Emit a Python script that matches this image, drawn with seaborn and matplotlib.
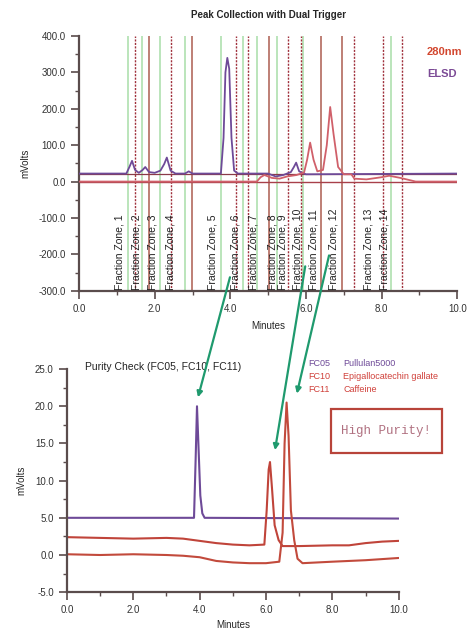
import matplotlib
matplotlib.use('Agg')
import matplotlib.pyplot as plt
import matplotlib.patches as mpatches
from matplotlib.patches import ConnectionPatch
from matplotlib.ticker import MultipleLocator, FormatStrFormatter
import pandas as pd
import seaborn as sns

# ---- top panel: dual trigger collection ----
elsd_time = [0.0, 1.25, 1.33, 1.40, 1.48, 1.58, 1.68, 1.75, 1.85, 2.00, 2.15, 2.25,
             2.32, 2.42, 2.55, 2.80, 2.90, 3.00, 3.20, 3.75, 3.82, 3.87, 3.92, 3.97,
             4.03, 4.10, 4.20, 5.00, 5.20, 5.40, 5.60, 5.68, 5.74, 5.82, 6.00, 10.0]
elsd_mv = [22, 22, 40, 57, 32, 24, 32, 40, 26, 24, 30, 48,
           66, 30, 22, 22, 28, 22, 22, 22, 120, 300, 340, 310,
           120, 30, 22, 22, 14, 18, 26, 40, 52, 28, 20, 22]

uv_time = [0.0, 4.70, 4.80, 4.90, 5.10, 5.30, 5.50, 5.75, 5.95, 6.03, 6.11, 6.20,
           6.30, 6.45, 6.55, 6.64, 6.73, 6.85, 7.00, 7.20, 7.28, 7.60, 8.00, 8.20,
           8.50, 8.90, 10.0]
uv_mv = [0, 0, 12, 18, 10, 8, 14, 18, 25, 60, 107, 60,
         28, 32, 100, 205, 130, 40, 20, 20, 8, 6, 12, 16,
         10, 0, 0]

green_lines = [1.30, 1.67, 2.14, 2.80, 3.76, 4.34, 4.71, 5.24, 5.93, 8.25]
dotted_lines = [1.48, 2.43, 4.15, 4.47, 5.53, 5.87, 7.28, 8.04, 8.54]
solid_lines = [1.85, 2.98, 5.03, 6.40, 6.96]

zone_names = ['Fraction Zone, %d' % i for i in range(1, 15)]
zone_pos = [1.08, 1.51, 1.93, 2.43, 3.54, 4.13, 4.60, 5.11, 5.37, 5.77, 6.19,
            6.72, 7.65, 8.07]

# ---- bottom panel: purity check ----
fc05_time = [0.0, 3.83, 3.88, 3.92, 3.97, 4.02, 4.08, 4.15, 10.0]
fc05_mv = [5.0, 5.0, 13.0, 20.0, 14.0, 8.0, 5.6, 5.0, 4.9]

fc10_time = [0.0, 1.0, 2.0, 3.0, 3.5, 4.0, 4.5, 5.0, 5.5, 5.95, 6.02, 6.08,
             6.12, 6.18, 6.26, 6.38, 6.50, 7.0, 8.0, 8.5, 9.0, 9.5, 10.0]
fc10_mv = [2.4, 2.3, 2.2, 2.3, 2.2, 1.9, 1.6, 1.4, 1.3, 1.4, 6.0, 11.5,
           12.5, 9.0, 4.0, 2.0, 1.2, 1.2, 1.3, 1.3, 1.6, 1.8, 1.9]

fc11_time = [0.0, 1.0, 2.0, 3.0, 3.5, 4.0, 4.5, 5.0, 5.5, 6.0, 6.40, 6.50,
             6.56, 6.62, 6.68, 6.75, 6.85, 6.95, 7.1, 8.0, 9.0, 10.0]
fc11_mv = [0.1, 0.0, 0.1, 0.0, -0.1, -0.3, -0.8, -1.0, -1.1, -1.1, -0.9, 3.0,
           15.0, 20.5, 16.0, 6.0, 2.0, -0.5, -1.1, -0.9, -0.7, -0.4]

legend_codes = ['FC05', 'FC10', 'FC11']
legend_names = ['Pullulan5000', 'Epigallocatechin gallate', 'Caffeine']

PURPLE = '#6e4a98'
RED = '#c8453a'
SPINE = '#5a4c4c'

sns.set_style('ticks')
plt.rcParams['font.family'] = ['Liberation Sans', 'DejaVu Sans']
plt.rcParams['font.size'] = 7

fig = plt.figure(figsize=(4.68, 6.32), dpi=100)
ax1 = fig.add_axes([0.169, 0.540, 0.808, 0.403])
ax2 = fig.add_axes([0.143, 0.063, 0.709, 0.353])


def style_axis(ax, xmaj, xmin, ymaj, ymin):
    for side in ['top', 'right']:
        ax.spines[side].set_visible(False)
    for side in ['left', 'bottom']:
        ax.spines[side].set_color(SPINE)
        ax.spines[side].set_linewidth(1.6)
    ax.xaxis.set_major_locator(MultipleLocator(xmaj))
    ax.xaxis.set_minor_locator(MultipleLocator(xmin))
    ax.yaxis.set_major_locator(MultipleLocator(ymaj))
    ax.yaxis.set_minor_locator(MultipleLocator(ymin))
    ax.xaxis.set_major_formatter(FormatStrFormatter('%.1f'))
    ax.yaxis.set_major_formatter(FormatStrFormatter('%.1f'))
    ax.tick_params(which='major', length=6, width=1.2, color=SPINE,
                   labelsize=7, labelcolor='#333333')
    ax.tick_params(which='minor', length=3, width=1.0, color=SPINE)


# top panel
for x in green_lines:
    ax1.axvline(x, color='#b5e3b5', lw=1.3, zorder=1)
for x in dotted_lines:
    ax1.axvline(x, color='#a0303c', lw=1.0, ls=(0, (1.5, 1)), zorder=1)
for x in solid_lines:
    ax1.axvline(x, color='#b36a5e', lw=1.2, zorder=1)

ax1.axhline(0, color='#a8404a', lw=1.0, zorder=2)
ax1.axhline(22, color='#8a3a48', lw=0.9, zorder=2)

top_df = pd.concat([
    pd.DataFrame({'Minutes': elsd_time, 'mVolts': elsd_mv, 'det': 'ELSD'}),
    pd.DataFrame({'Minutes': uv_time, 'mVolts': uv_mv, 'det': '280nm'}),
])
sns.lineplot(data=top_df, x='Minutes', y='mVolts', hue='det', units='det',
             estimator=None, sort=False, palette={'ELSD': PURPLE, '280nm': '#d0606a'},
             lw=1.3, legend=False, ax=ax1, zorder=3)

for name, x in zip(zone_names, zone_pos):
    ax1.text(x, -298, name, rotation=90, ha='center', va='bottom',
             fontsize=7.5, color='#222222', zorder=4)

ax1.set_xlim(0, 10)
ax1.set_ylim(-300, 400)
style_axis(ax1, 2, 1, 100, 50)
ax1.set_xlabel('Minutes', fontsize=7, labelpad=5)
ax1.set_ylabel('mVolts', fontsize=7, labelpad=6)
ax1.set_title('Peak Collection with Dual Trigger', fontsize=7, fontweight='bold',
              pad=13)
ax1.text(0.92, 0.937, '280nm', transform=ax1.transAxes, color='#d2462e',
         fontsize=8, fontweight='bold', va='center')
ax1.text(0.92, 0.851, 'ELSD', transform=ax1.transAxes, color='#7b4a95',
         fontsize=8, fontweight='bold', va='center')

# bottom panel
bot_df = pd.concat([
    pd.DataFrame({'Minutes': fc05_time, 'mVolts': fc05_mv, 'fc': 'FC05'}),
    pd.DataFrame({'Minutes': fc10_time, 'mVolts': fc10_mv, 'fc': 'FC10'}),
    pd.DataFrame({'Minutes': fc11_time, 'mVolts': fc11_mv, 'fc': 'FC11'}),
])
sns.lineplot(data=bot_df, x='Minutes', y='mVolts', hue='fc', units='fc',
             estimator=None, sort=False,
             palette={'FC05': PURPLE, 'FC10': '#c0443a', 'FC11': '#c24a3c'},
             lw=1.5, legend=False, ax=ax2)

ax2.set_xlim(0, 10)
ax2.set_ylim(-5, 25)
style_axis(ax2, 2, 1, 5, 2.5)
ax2.set_xlabel('Minutes', fontsize=7, labelpad=3)
ax2.set_ylabel('mVolts', fontsize=7, labelpad=6)
ax2.text(0.054, 1.01, 'Purity Check (FC05, FC10, FC11)', transform=ax2.transAxes,
         fontsize=7.5, va='center', color='#222222')

leg_colors = [PURPLE, '#d0403a', '#d0403a']
for i, (code, name, c) in enumerate(zip(legend_codes, legend_names, leg_colors)):
    y = 1 - (364 + 12.5 * i) / 632
    fig.text(308 / 468, y, code, color=c, fontsize=6.5, va='center')
    fig.text(343 / 468, y, name, color=c, fontsize=6.5, va='center')

fig.add_artist(mpatches.Rectangle((331 / 468, 1 - 453 / 632), 111 / 468, 44 / 632,
                                  transform=fig.transFigure, fill=False,
                                  edgecolor='#b8443a', lw=1.6))
fig.text(386 / 468, 1 - 431 / 632, 'High Purity!', family='Liberation Mono',
         color='#b07080', fontsize=9, ha='center', va='center')

# arrows linking fractions to their purity runs
arrow_from = [(3.99, -263), (5.98, -233), (6.61, -203)]
arrow_to = [(3.95, 21.2), (6.27, 14.1), (6.93, 21.7)]
for a, b in zip(arrow_from, arrow_to):
    con = ConnectionPatch(xyA=a, coordsA=ax1.transData, xyB=b, coordsB=ax2.transData,
                          arrowstyle='-|>', color='#1f9a6e', lw=1.6,
                          mutation_scale=8)
    fig.add_artist(con)

fig.savefig('out.png', dpi=100)
